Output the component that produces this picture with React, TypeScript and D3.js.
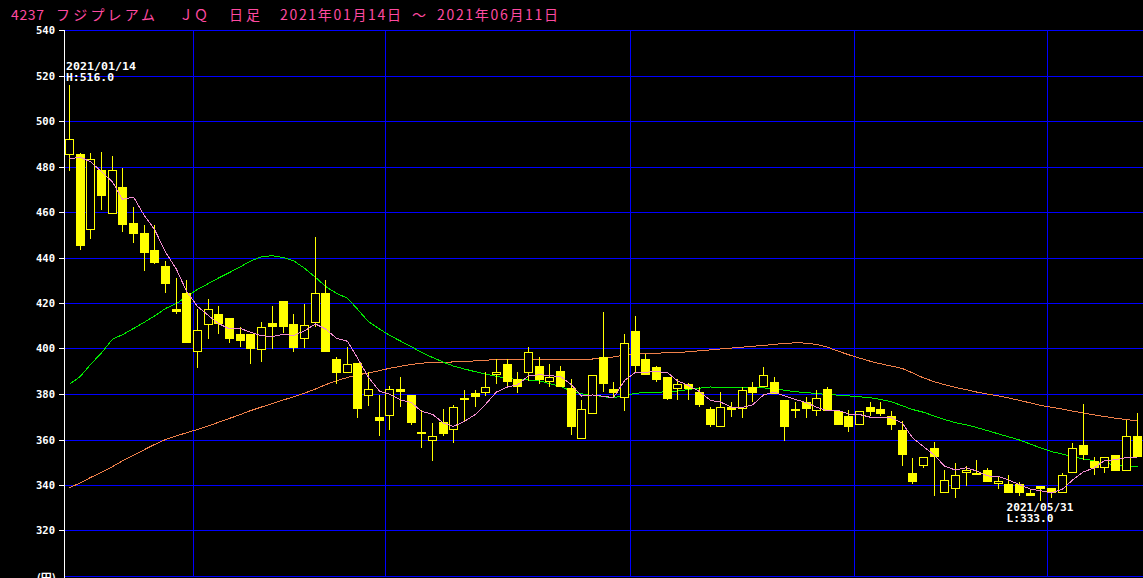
import React from 'react';
import * as d3 from 'd3';

// ---- data ----
const dates = [
  '01/14','01/15','01/18','01/19','01/20','01/21','01/22','01/25','01/26','01/27','01/28','01/29',
  '02/01','02/02','02/03','02/04','02/05','02/08','02/09','02/10','02/12','02/15','02/16','02/17','02/18','02/19','02/22','02/24','02/25','02/26',
  '03/01','03/02','03/03','03/04','03/05','03/08','03/09','03/10','03/11','03/12','03/15','03/16','03/17','03/18','03/19','03/22','03/23','03/24','03/25','03/26','03/29','03/30','03/31',
  '04/01','04/02','04/05','04/06','04/07','04/08','04/09','04/12','04/13','04/14','04/15','04/16','04/19','04/20','04/21','04/22','04/23','04/26','04/27','04/28','04/30',
  '05/06','05/07','05/10','05/11','05/12','05/13','05/14','05/17','05/18','05/19','05/20','05/21','05/24','05/25','05/26','05/27','05/28','05/31',
  '06/01','06/02','06/03','06/04','06/07','06/08','06/09','06/10','06/11',
];
const year = '2021';

const opens = [
  485.4, 485.5, 452.4, 478.5, 459.3, 471.4, 455.6, 450.8, 443.7, 436.7,
  417.8, 424.8, 398.6, 410.6, 415.6, 413.8, 406.7, 406.8, 399.5, 411.6,
  420.9, 410.8, 404.3, 411.4, 424.7, 395.7, 389.5, 393.8, 379.4, 369.9,
  370.5, 382.6, 379.6, 362.6, 359.7, 367.7, 364.5, 378.3, 380.7, 380.6,
  388.5, 393.6, 386.6, 389.6, 392.7, 385.7, 390.5, 382.9, 360.5, 371.5,
  396.6, 382.6, 378.4, 407.7, 395.8, 391.9, 387.9, 382.2, 384.8, 380.9,
  373.8, 365.6, 374.7, 373.7, 383.4, 383.1, 385.7, 377.8, 372.8, 376.9,
  372.7, 382.6, 372.7, 370.7, 366.7, 374.6, 373.8, 370.7, 364.6, 345.7,
  348.7, 356.7, 336.8, 338.6, 345.6, 344.6, 346.6, 340.7, 340.7, 340.7,
  336.8, 339.9, 338.7, 336.8, 345.6, 357.6, 350.9, 347.6, 353.6, 346.3,
  361.8,
];
const highs = [
  516.0, 486.2, 486.0, 486.5, 484.8, 479.5, 462.6, 454.7, 454.7, 438.6,
  431.4, 430.4, 417.8, 421.8, 418.7, 413.8, 409.8, 406.8, 411.8, 418.8,
  420.9, 415.6, 419.6, 449.4, 430.5, 396.7, 400.7, 393.8, 389.8, 379.6,
  383.7, 387.9, 379.6, 373.1, 367.6, 373.8, 375.6, 381.8, 381.9, 389.8,
  395.4, 395.4, 389.8, 400.7, 396.7, 393.6, 392.7, 386.6, 377.8, 388.7,
  416.4, 385.6, 406.8, 414.7, 397.6, 392.7, 387.9, 387.0, 385.0, 383.1,
  374.7, 380.9, 376.5, 383.5, 385.4, 391.9, 387.9, 377.8, 376.9, 378.7,
  381.8, 383.4, 372.7, 373.0, 372.8, 376.9, 376.9, 372.8, 368.4, 351.9,
  352.6, 359.0, 346.7, 349.7, 348.7, 351.0, 347.6, 343.8, 344.6, 341.6,
  337.9, 339.9, 338.7, 345.6, 358.8, 375.8, 352.6, 352.6, 353.6, 369.0,
  371.8,
];
const lows = [
  478.2, 443.4, 448.4, 461.3, 459.3, 451.3, 446.4, 434.2, 437.4, 424.5,
  415.3, 402.5, 391.7, 404.3, 406.4, 402.7, 401.0, 393.4, 394.2, 400.2,
  407.1, 398.6, 400.4, 409.6, 398.6, 384.7, 389.5, 369.6, 375.0, 361.7,
  364.3, 374.4, 366.4, 356.3, 350.7, 361.7, 358.8, 368.3, 374.4, 379.3,
  384.5, 383.4, 380.7, 385.9, 384.4, 383.4, 383.2, 362.4, 360.5, 371.5,
  381.3, 378.4, 372.7, 389.5, 388.5, 385.4, 377.4, 377.4, 377.4, 374.3,
  365.5, 365.6, 370.3, 369.5, 376.5, 383.1, 380.4, 359.5, 369.6, 369.6,
  370.5, 372.7, 366.5, 363.4, 366.7, 370.5, 370.5, 364.3, 348.5, 340.6,
  347.6, 335.3, 336.8, 334.4, 339.7, 344.6, 341.5, 338.6, 336.6, 335.3,
  335.3, 333.0, 334.6, 336.8, 345.6, 351.4, 344.6, 345.6, 346.3, 346.3,
  352.5,
];
const closes = [
  492.4, 445.2, 483.6, 467.2, 478.5, 454.3, 450.5, 442.0, 437.9, 428.5,
  416.2, 402.5, 408.4, 417.8, 411.2, 404.2, 403.5, 400.2, 409.8, 409.6,
  409.6, 400.4, 410.6, 424.7, 398.6, 389.4, 393.6, 373.5, 382.5, 368.3,
  382.5, 381.3, 367.4, 363.6, 361.9, 362.6, 374.6, 378.5, 379.1, 383.5,
  389.8, 385.4, 383.4, 398.8, 386.2, 387.9, 383.2, 365.6, 373.8, 388.7,
  384.5, 380.6, 402.7, 392.5, 388.5, 386.2, 378.2, 384.8, 382.2, 375.2,
  366.4, 374.7, 373.4, 381.8, 380.6, 388.7, 380.4, 365.6, 373.8, 373.5,
  378.5, 372.7, 366.5, 365.6, 372.8, 372.5, 371.4, 366.5, 353.3, 341.5,
  352.6, 352.5, 342.6, 344.7, 346.6, 345.6, 341.5, 341.8, 336.6, 336.6,
  335.3, 338.4, 336.8, 344.7, 356.6, 353.3, 347.6, 352.6, 346.3, 361.8,
  352.5,
];
const ma5 = [
  483.6, 484.3, 482.3, 478.0, 473.4, 465.8, 466.8, 458.5, 452.6, 442.6,
  435.0, 425.4, 418.7, 414.7, 411.2, 408.8, 409.0, 407.4, 405.8, 405.5,
  406.5, 405.9, 408.0, 411.0, 408.8, 404.7, 403.4, 396.0, 387.5, 381.5,
  380.1, 377.6, 376.4, 372.6, 371.3, 367.4, 366.0, 368.2, 371.3, 375.7,
  381.1, 383.3, 384.2, 388.2, 388.7, 388.3, 387.9, 384.3, 379.3, 379.8,
  379.2, 378.6, 386.1, 389.8, 389.8, 390.1, 389.6, 386.0, 384.0, 381.3,
  377.4, 376.7, 374.4, 374.3, 375.4, 379.8, 381.0, 379.4, 377.8, 376.4,
  374.4, 372.8, 373.0, 371.4, 371.2, 370.0, 369.8, 369.8, 367.3, 361.0,
  357.1, 353.3, 348.5, 346.8, 347.8, 346.4, 344.2, 344.0, 342.4, 340.4,
  338.4, 337.7, 336.7, 338.4, 342.4, 346.0, 347.8, 351.0, 351.3, 352.3,
  352.2,
];
const ma25 = [
  384.5, 388.0, 393.2, 398.3, 404.3, 406.3, 409.0, 411.8, 414.5, 417.8,
  420.0, 423.0, 426.2, 428.8, 431.2, 433.6, 436.2, 438.6, 440.6, 441.0,
  440.2, 438.8, 435.5, 431.5, 427.5, 424.5, 422.3, 417.5, 412.0, 408.8,
  406.0, 403.5, 401.0, 398.5, 396.3, 394.2, 392.5, 391.2, 390.0, 389.0,
  388.0, 387.1, 386.6, 386.4, 386.0, 384.8, 383.5, 381.5, 380.3, 379.8,
  379.0, 378.6, 379.5, 380.5, 381.0, 381.0, 381.2, 381.5, 382.2, 382.8,
  383.3, 383.1, 383.0, 383.0, 383.0, 382.9, 382.6, 381.9, 381.2, 380.9,
  380.4, 380.0, 379.7, 379.4, 379.0, 378.6, 377.8, 376.8, 375.0, 373.4,
  372.2, 370.5, 369.0, 367.6, 366.6, 365.5, 364.1, 362.7, 361.4, 360.0,
  358.2, 356.5, 354.9, 353.8, 352.6, 351.7, 350.8, 349.8, 349.1, 348.6,
  348.2,
];
const ma75 = [
  339.0, 341.2, 343.5, 345.8, 348.3, 350.8, 353.3, 355.8, 358.0, 360.2,
  361.8, 363.2, 364.6, 366.2, 367.8, 369.5, 371.2, 372.9, 374.5, 376.0,
  377.6, 379.0, 380.6, 382.4, 384.3, 386.0, 387.5, 388.6, 389.5, 390.5,
  391.5, 392.4, 393.2, 393.8, 394.0, 394.2, 394.3, 394.5, 394.8, 395.1,
  395.3, 395.4, 395.4, 395.4, 395.4, 395.4, 395.4, 395.4, 395.5, 395.6,
  396.0, 396.5, 397.3, 397.8, 398.0, 398.2, 398.3, 398.4, 398.8, 399.2,
  399.6, 400.0, 400.4, 400.8, 401.2, 401.6, 402.0, 402.5, 402.7, 402.6,
  402.0, 400.8, 399.0, 397.5, 396.0, 394.6, 393.5, 392.5, 391.4, 389.5,
  387.3, 385.6, 384.3, 383.1, 382.1, 381.1, 380.2, 379.4, 378.5, 377.4,
  376.3, 375.2, 374.4, 373.6, 372.7, 371.9, 371.0, 370.3, 369.6, 369.0,
  368.3,
];
const yTicks = [540, 520, 500, 480, 460, 440, 420, 400, 380, 360, 340, 320];
const gridValues = [540, 520, 500, 480, 460, 440, 420, 400, 380, 360, 340, 320, 300];
const unitLabel = '(円)';
const titleParts = [
  { t: '4237', x: 11, w: 33 },
  { t: 'フジプレアム', x: 56, w: 99 },
  { t: 'ＪＱ', x: 179, w: 29 },
  { t: '日足', x: 229, w: 31 },
  { t: '2021年01月14日', x: 280, w: 121 },
  { t: '～', x: 412, w: 15 },
  { t: '2021年06月11日', x: 437, w: 121 },
];

// ---- style ----
const W = 1143;
const H = 578;
const YELLOW = '#ffff00';
const BLUE = '#0000ff';
const PINK = '#f08cd0';
const GREEN = '#00ee00';
const ORANGE = '#f0804a';
const TITLE = '#ff4aa0';
const MONO = '"DejaVu Sans Mono", "Liberation Mono", monospace';
const CJK = '"Noto Sans CJK JP", "Noto Sans", sans-serif';

export default function App() {
  const n = dates.length;
  const step = 10.675;
  const xs = d3.scaleLinear().domain([0, n]).range([65, 65 + step * n]);
  const ys = d3.scaleLinear().domain([300, 540]).range([576.5, 30.5]);
  const cx = (i: number) => Math.round(xs(i)) + 4.5;

  const lineGen = d3
    .line<number>()
    .x((_, i) => cx(i))
    .y((v) => ys(v));

  const monthStarts: number[] = [];
  for (let i = 1; i < n; i++) {
    if (dates[i].slice(0, 2) !== dates[i - 1].slice(0, 2)) monthStarts.push(i);
  }

  const hiIdx = d3.maxIndex(highs);
  const loIdx = d3.minIndex(lows);
  const annW = 68;
  const hiX = Math.max(66, cx(hiIdx) - annW / 2);
  const loX = Math.max(66, cx(loIdx) - annW / 2);
  const hiY = ys(highs[hiIdx]);
  const loY = ys(lows[loIdx]);

  return (
    <svg
      width={W}
      height={H}
      style={{ position: 'absolute', left: 0, top: 0, background: '#000', display: 'block' }}
    >
      <rect x={0} y={0} width={W} height={H} fill="#000" />
      {/* title */}
      {titleParts.map((p, k) => (
        <text
          key={k}
          x={p.x}
          y={20}
          fill={TITLE}
          fontFamily={CJK}
          fontSize={14}
          textLength={p.w}
          lengthAdjust="spacing"
        >
          {p.t}
        </text>
      ))}
      {/* horizontal grid */}
      {gridValues.map((v) => (
        <line
          key={v}
          x1={65}
          x2={W}
          y1={Math.floor(ys(v)) + 0.5}
          y2={Math.floor(ys(v)) + 0.5}
          stroke={BLUE}
          strokeWidth={1}
          shapeRendering="crispEdges"
        />
      ))}
      {/* vertical month grid */}
      {monthStarts.map((i) => (
        <line
          key={i}
          x1={Math.floor(xs(i)) + 0.5}
          x2={Math.floor(xs(i)) + 0.5}
          y1={30}
          y2={577}
          stroke={BLUE}
          strokeWidth={1}
          shapeRendering="crispEdges"
        />
      ))}
      {/* y axis */}
      <line x1={64.5} x2={64.5} y1={30} y2={H} stroke="#fff" strokeWidth={1} shapeRendering="crispEdges" />
      {yTicks.map((v) => {
        const y = Math.floor(ys(v)) + 0.5;
        return (
          <g key={v}>
            <line x1={59} x2={64} y1={y} y2={y} stroke="#fff" strokeWidth={1} shapeRendering="crispEdges" />
            <text
              x={55}
              y={y + 3.5}
              fill="#fff"
              fontFamily={MONO}
              fontWeight="bold"
              fontSize={10}
              textAnchor="end"
              textLength={19}
              lengthAdjust="spacingAndGlyphs"
            >
              {v}
            </text>
          </g>
        );
      })}
      <text x={56} y={582} fill="#fff" fontFamily={CJK} fontWeight="bold" fontSize={11} textAnchor="end">
        {unitLabel}
      </text>
      {/* moving averages */}
      <path d={lineGen(ma75) || ''} fill="none" stroke={ORANGE} strokeWidth={1} shapeRendering="crispEdges" />
      <path d={lineGen(ma25) || ''} fill="none" stroke={GREEN} strokeWidth={1} shapeRendering="crispEdges" />
      {/* candles */}
      {dates.map((d, i) => {
        const o = opens[i];
        const c = closes[i];
        const up = c > o;
        const left = Math.round(xs(i));
        const top = Math.round(ys(Math.max(o, c)));
        const bot = Math.round(ys(Math.min(o, c)));
        const wx = left + 4.5;
        return (
          <g key={d}>
            <line
              x1={wx}
              x2={wx}
              y1={Math.round(ys(highs[i]))}
              y2={Math.round(ys(lows[i]))}
              stroke={YELLOW}
              strokeWidth={1}
              shapeRendering="crispEdges"
            />
            {up ? (
              <rect
                x={left + 0.5}
                y={top + 0.5}
                width={8}
                height={Math.max(bot - top - 1, 1)}
                fill="#000"
                stroke={YELLOW}
                strokeWidth={1}
                shapeRendering="crispEdges"
              />
            ) : (
              <rect
                x={left}
                y={top}
                width={9}
                height={Math.max(bot - top, 1)}
                fill={YELLOW}
                shapeRendering="crispEdges"
              />
            )}
          </g>
        );
      })}
      <path d={lineGen(ma5) || ''} fill="none" stroke={PINK} strokeWidth={1} shapeRendering="crispEdges" />
      {/* high / low annotations */}
      <g fill="#fff" fontFamily={MONO} fontWeight="bold" fontSize={10}>
        <text x={hiX} y={hiY - 15} textLength={70} lengthAdjust="spacingAndGlyphs">
          {`${year}/${dates[hiIdx]}`}
        </text>
        <text x={hiX} y={hiY - 4} textLength={48} lengthAdjust="spacingAndGlyphs">
          {`H:${highs[hiIdx].toFixed(1)}`}
        </text>
        <text x={loX} y={loY + 10} textLength={67} lengthAdjust="spacingAndGlyphs">
          {`${year}/${dates[loIdx]}`}
        </text>
        <text x={loX} y={loY + 21} textLength={47} lengthAdjust="spacingAndGlyphs">
          {`L:${lows[loIdx].toFixed(1)}`}
        </text>
      </g>
    </svg>
  );
}
